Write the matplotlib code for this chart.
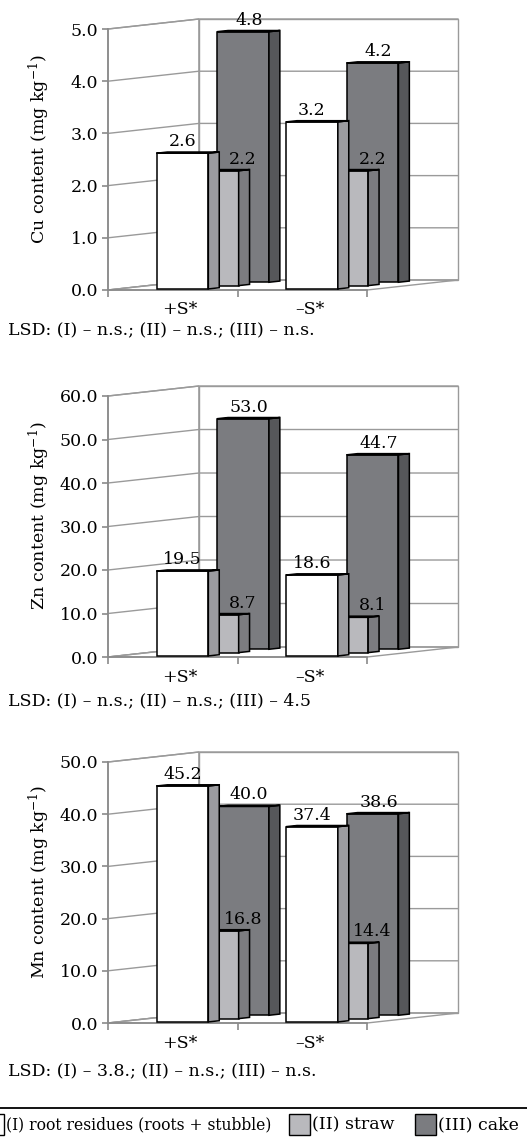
import matplotlib
matplotlib.use("Agg")
import matplotlib.pyplot as plt
from matplotlib.patches import Polygon, Rectangle
from matplotlib.lines import Line2D

plt.rcParams["font.family"] = ["DejaVu Serif"]
plt.rcParams["mathtext.fontset"] = "dejavuserif"

# ---- data -------------------------------------------------------------
categories = ["+S*", "–S*"]
series_names = ["(I) root residues (roots + stubble)", "(II) straw", "(III) cake"]

cu_values = [[2.6, 3.2], [2.2, 2.2], [4.8, 4.2]]      # rows: series I, II, III
zn_values = [[19.5, 18.6], [8.7, 8.1], [53.0, 44.7]]
mn_values = [[45.2, 37.4], [16.8, 14.4], [40.0, 38.6]]

cu_ticks = [0.0, 1.0, 2.0, 3.0, 4.0, 5.0]
zn_ticks = [0.0, 10.0, 20.0, 30.0, 40.0, 50.0, 60.0]
mn_ticks = [0.0, 10.0, 20.0, 30.0, 40.0, 50.0]

cu_lsd = "LSD: (I) – n.s.; (II) – n.s.; (III) – n.s."
zn_lsd = "LSD: (I) – n.s.; (II) – n.s.; (III) – 4.5"
mn_lsd = "LSD: (I) – 3.8.; (II) – n.s.; (III) – n.s."

# ---- styling ----------------------------------------------------------
FS = 12.5
front_colors = ["#ffffff", "#b9b9bd", "#7b7c80"]
side_colors = ["#9c9ca0", "#7c7c80", "#56575a"]
top_colors = ["#e6e6e6", "#a4a4a8", "#6a6a6e"]
label_dx = [0, 30, 6]          # pixel shift of value labels per series
grid_c = "#9a9a9a"
axis_c = "#8a8a8a"

W, H = 527, 1141
fig = plt.figure(figsize=(W / 100, H / 100), dpi=100)

AX_X = 108          # pixel column of the front value axis
CAT_PX = 129.5      # pixel width of one category slot
ROW_DX_PX = 30.3    # oblique shift per depth row
ROW_DY_PX = 3.33
VAL_PX = 261        # pixel height of the value axis
N_ROWS = 3
BAR_W = 0.4         # fraction of category slot
BAR_D = 0.36        # fraction of depth row

width_px = 2 * CAT_PX + N_ROWS * ROW_DX_PX
height_px = VAL_PX + N_ROWS * ROW_DY_PX


def panel(y0_px, values, ticks, ylabel, lsd, lsd_y):
    ymax = ticks[-1]
    ax = fig.add_axes([AX_X / W, (H - y0_px) / H, width_px / W, height_px / H])
    ax.set_xlim(0, width_px / CAT_PX)
    ax.set_ylim(0, ymax * height_px / VAL_PX)
    ax.patch.set_visible(False)

    kx = ROW_DX_PX / CAT_PX
    ky = ROW_DY_PX / VAL_PX * ymax
    ncat = len(categories)

    def proj(x, y, d):
        return (x + d * kx, y + d * ky)

    # walls and floor
    left_wall = [proj(0, 0, 0), proj(0, 0, N_ROWS), proj(0, ymax, N_ROWS), proj(0, ymax, 0)]
    back_wall = [proj(0, 0, N_ROWS), proj(ncat, 0, N_ROWS), proj(ncat, ymax, N_ROWS), proj(0, ymax, N_ROWS)]
    floor = [proj(0, 0, 0), proj(ncat, 0, 0), proj(ncat, 0, N_ROWS), proj(0, 0, N_ROWS)]
    for poly in (left_wall, back_wall, floor):
        ax.add_patch(Polygon(poly, closed=True, facecolor="white", edgecolor=grid_c,
                             lw=1.0, zorder=1, clip_on=False))
    for t in ticks:
        xs, ys = zip(proj(0, t, 0), proj(0, t, N_ROWS), proj(ncat, t, N_ROWS))
        ax.plot(xs, ys, color=grid_c, lw=1.0, zorder=1.5, clip_on=False)

    # bars, drawn back row first
    z = 2
    for s in range(N_ROWS - 1, -1, -1):
        for i in range(ncat):
            v = values[s][i]
            x0 = i + 0.5 - BAR_W / 2
            x1 = x0 + BAR_W
            df = s + 0.5 - BAR_D / 2
            db = s + 0.5 + BAR_D / 2
            fx, fy = proj(x0, 0, df)
            ax.bar(fx, v, width=BAR_W, bottom=fy, align="edge",
                   color=front_colors[s], edgecolor="black", lw=1.1,
                   zorder=z, clip_on=False)
            side = [proj(x1, 0, df), proj(x1, 0, db), proj(x1, v, db), proj(x1, v, df)]
            top = [proj(x0, v, df), proj(x1, v, df), proj(x1, v, db), proj(x0, v, db)]
            ax.add_patch(Polygon(side, closed=True, facecolor=side_colors[s],
                                 edgecolor="black", lw=1.1, zorder=z + 0.1, clip_on=False))
            ax.add_patch(Polygon(top, closed=True, facecolor=top_colors[s],
                                 edgecolor="black", lw=1.1, zorder=z + 0.2, clip_on=False))
            ax.annotate(f"{v:.1f}", xy=proj(i + 0.5, v, df),
                        xytext=(label_dx[s], 7), textcoords="offset pixels",
                        ha="center", va="baseline", fontsize=FS, zorder=20,
                        annotation_clip=False)
            z += 1

    # axes lines and ticks
    for side_name in ("top", "right"):
        ax.spines[side_name].set_visible(False)
    ax.spines["left"].set_bounds(0, ymax)
    ax.spines["bottom"].set_bounds(0, ncat)
    for side_name in ("left", "bottom"):
        ax.spines[side_name].set_color(axis_c)
        ax.spines[side_name].set_linewidth(1.2)
        ax.spines[side_name].set_zorder(1.6)
    ax.set_yticks(ticks)
    ax.set_yticklabels([f"{t:.1f}" for t in ticks])
    ax.set_xticks(range(ncat + 1))
    ax.set_xticklabels([])
    ax.tick_params(axis="y", direction="out", length=4, width=1.2, color=axis_c,
                   labelsize=FS, pad=3)
    ax.tick_params(axis="x", direction="out", length=5, width=1.2, color=axis_c)
    for i, c in enumerate(categories):
        ax.annotate(c, xy=(i + 0.556, 0), xytext=(0, -20), textcoords="offset pixels",
                    ha="center", va="center", fontsize=FS, annotation_clip=False)

    ax.set_ylabel(ylabel, fontsize=FS)
    ax.yaxis.set_label_coords((52 - AX_X) / width_px, 0.52)

    fig.text(8 / W, 1 - lsd_y / H, lsd, ha="left", va="center", fontsize=FS)
    return ax


panel(290, cu_values, cu_ticks, r"Cu content (mg kg$^{\mathdefault{-1}}$)", cu_lsd, 331)
panel(657, zn_values, zn_ticks, r"Zn content (mg kg$^{\mathdefault{-1}}$)", zn_lsd, 701)
panel(1023, mn_values, mn_ticks, r"Mn content (mg kg$^{\mathdefault{-1}}$)", mn_lsd, 1072)

# ---- legend strip -------------------------------------------------------
line_y = 1 - 1107.5 / H
fig.add_artist(Line2D([0, 1], [line_y, line_y], transform=fig.transFigure,
                      color="black", lw=1.3))
text_y = 1 - 1125 / H
box_h = 21
legend_text = [
    fig.text(271 / W, text_y, series_names[0], ha="right", va="center", fontsize=FS),
    fig.text(312 / W, text_y, series_names[1], ha="left", va="center", fontsize=FS),
    fig.text(438 / W, text_y, series_names[2], ha="left", va="center", fontsize=FS),
]
fig.canvas.draw()
renderer = fig.canvas.get_renderer()

# the first entry is long: shrink it until it fits inside the left edge
first = legend_text[0]
size = FS
while first.get_window_extent(renderer).x0 < 2 and size > 6:
    size -= 0.25
    first.set_fontsize(size)

for s, t in enumerate(legend_text):
    left_px = t.get_window_extent(renderer).x0
    fig.add_artist(Rectangle(((left_px - 23) / W, 1 - (1124 + box_h / 2) / H),
                             box_h / W, box_h / H, transform=fig.transFigure,
                             facecolor=front_colors[s], edgecolor="black", lw=1.0))

fig.savefig("out.png", dpi=100)
